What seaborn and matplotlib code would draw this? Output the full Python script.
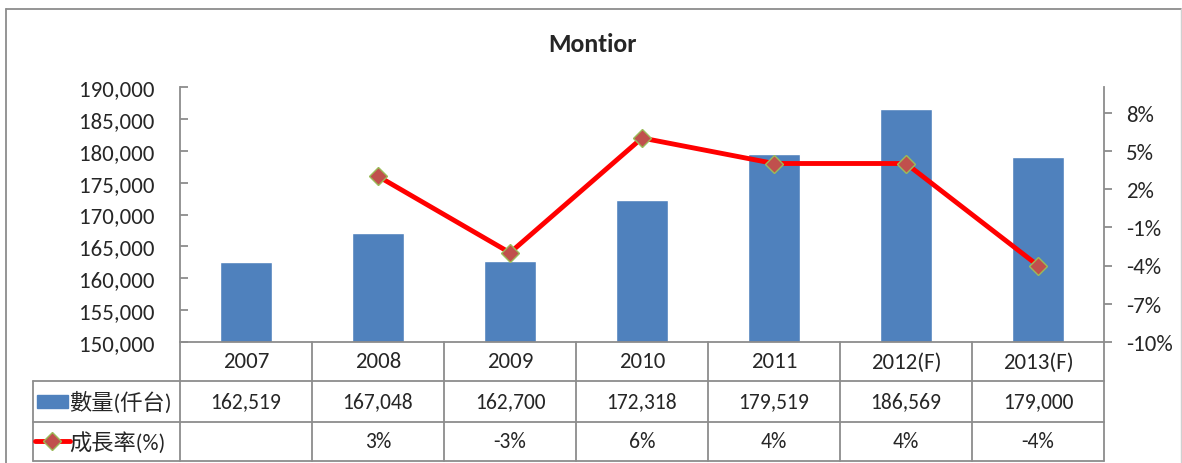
# import libraries
import pandas as pd
import seaborn as sns
import matplotlib.pyplot as plt
import matplotlib.transforms as mtransforms
from matplotlib.lines import Line2D
from matplotlib.patches import Rectangle

# data
years = ["2007", "2008", "2009", "2010", "2011", "2012(F)", "2013(F)"]
units = [162519, 167048, 162700, 172318, 179519, 186569, 179000]
growth = [None, 3, -3, 6, 4, 4, -4]  # percent
row_labels = ["數量(仟台)", "成長率(%)"]
title = "Montior"

sns.set_style("white")
plt.rcParams["font.family"] = ["Carlito", "Noto Sans CJK TC"]

BLUE = "#4F81BD"
GREY = "#8C8C8C"

# figure in pixels
W, H = 1182, 464
fig = plt.figure(figsize=(W / 100, H / 100), dpi=100)


def fx(px):
    return px / W


def fy(py):
    return 1 - py / H


left, right, top, bottom = 180, 1104, 88, 343
ax = fig.add_axes([fx(left), fy(bottom), (right - left) / W, (bottom - top) / H])

# bars
df = pd.DataFrame({"year": years, "units": units})
sns.barplot(data=df, x="year", y="units", order=years, color=BLUE,
            saturation=1, width=0.4, ax=ax)
ax.set_ylim(150000, 190000)
yt = list(range(150000, 190001, 5000))
ax.set_yticks(yt)
ax.set_yticklabels([f"{v:,}" for v in yt])
ax.set_xticks([])
ax.set_xlabel("")
ax.set_ylabel("")
ax.tick_params(axis="y", direction="in", length=6, width=1.3, color=GREY,
               pad=18.5, labelsize=16.5, left=True)
for s in ["top", "right"]:
    ax.spines[s].set_visible(False)
for s in ["left", "bottom"]:
    ax.spines[s].set_color(GREY)
    ax.spines[s].set_linewidth(1.3)

# growth line
ax2 = ax.twinx()
gx = [i for i, g in enumerate(growth) if g is not None]
gy = [g for g in growth if g is not None]
sns.lineplot(x=gx, y=gy, ax=ax2, color="red", linewidth=3.5, marker="D",
             markersize=9, markerfacecolor="#C0504D", markeredgecolor="#9BBB59",
             markeredgewidth=1)
ax2.set_ylim(-10, 10)
rt = list(range(-10, 9, 3))
ax2.set_yticks(rt)
ax2.set_yticklabels([f"{v}%" for v in rt])
ax2.tick_params(axis="y", direction="out", length=6, width=1.3, color=GREY,
                pad=10, labelsize=16.5, right=True)
for s in ["top", "left", "bottom"]:
    ax2.spines[s].set_visible(False)
ax2.spines["right"].set_color(GREY)
ax2.spines["right"].set_linewidth(1.3)
ax.set_xlim(-0.5, len(years) - 0.5)

# data table under the plot
trans = mtransforms.blended_transform_factory(ax.transData, fig.transFigure)
rows = [343, 382, 423, 462]
for i in range(len(years) + 1):
    fig.add_artist(Line2D([i - 0.5, i - 0.5], [fy(rows[0]), fy(rows[-1])],
                          transform=trans, color=GREY, lw=1.3))
for r in rows[1:]:
    fig.add_artist(Line2D([fx(33), fx(right)], [fy(r), fy(r)], color=GREY, lw=1.3))
fig.add_artist(Line2D([fx(33), fx(33)], [fy(rows[1]), fy(rows[-1])], color=GREY, lw=1.3))

for i, y in enumerate(years):
    fig.text(i, fy(362.5), y, transform=trans, ha="center", va="center", size=16.5)
    fig.text(i, fy(402.5), f"{units[i]:,}", transform=trans, ha="center", va="center", size=15.5)
    if growth[i] is not None:
        fig.text(i, fy(442.5), f"{growth[i]}%", transform=trans, ha="center", va="center", size=15.5)

# legend keys in the table
fig.add_artist(Rectangle((fx(37), fy(409)), 31 / W, 13 / H, color=BLUE))
fig.add_artist(Line2D([fx(35), fx(70)], [fy(442), fy(442)], color="red", lw=3.5))
fig.add_artist(Line2D([fx(52)], [fy(442)], marker="D", markersize=9, color="red",
                      markerfacecolor="#C0504D", markeredgecolor="#9BBB59",
                      markeredgewidth=1))
fig.text(fx(69), fy(402.5), row_labels[0], ha="left", va="center", size=16)
fig.text(fx(69), fy(442.5), row_labels[1], ha="left", va="center", size=16)

# title
fig.text(fx(592), fy(44), title, ha="center", va="center", size=18.5, weight="bold")

# chart frame
fig.add_artist(Line2D([fx(6), fx(6)], [0, fy(10)], color=GREY, lw=1.3))
fig.add_artist(Line2D([fx(6), fx(1181)], [fy(10), fy(10)], color=GREY, lw=1.3))
fig.add_artist(Line2D([fx(1180.5), fx(1180.5)], [0, fy(10)], color="#D0D0D0", lw=1))

fig.savefig("out.png", dpi=100)
